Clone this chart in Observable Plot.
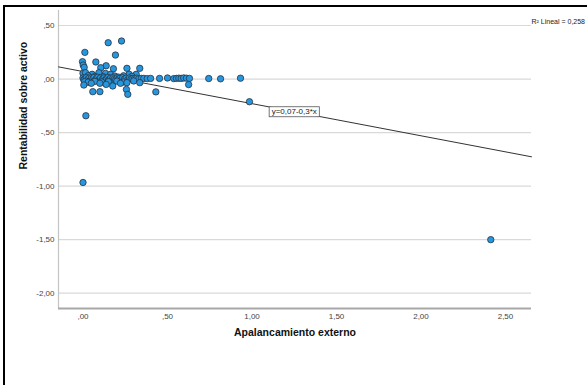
<!DOCTYPE html>
<html>
<head>
<meta charset="utf-8">
<script src="https://cdn.jsdelivr.net/npm/d3@7"></script>
<script src="https://cdn.jsdelivr.net/npm/@observablehq/plot@0.6"></script>
<style>
  html, body { margin: 0; padding: 0; background: #fff; overflow: hidden; }
  #chart { position: relative; width: 587px; height: 385px; overflow: hidden; }
  #chart svg { position: absolute; left: 0; top: 0; }
  #chart .edge {
    position: absolute; left: 3px; top: 5px; right: -10px; bottom: -10px;
    border-left: 2px solid #000; border-top: 2px solid #000; pointer-events: none;
  }
</style>
</head>
<body>
<div id="chart"><div class="edge"></div></div>
<script>
// Apalancamiento externo (x) and Rentabilidad sobre activo (y), one entry per firm
const apalancamiento = [
  0.149, 0.228, 0.011, 0.192,
  -0.003, 0.076, 0.001, 0.007, 0.137, 0.105, 0.180, 0.260, 0.336, 0.000,
  0.015, 0.054, 0.094, 0.133, 0.163, 0.188, 0.273, 0.315, 0.030, 0.120,
  0.240, 0.290, 0.070, 0.210,
  0.000, 0.005, 0.012, 0.020, 0.028, 0.035, 0.042, 0.050, 0.058, 0.065,
  0.072, 0.080, 0.088, 0.095, 0.103, 0.110, 0.118, 0.125, 0.132, 0.140,
  0.148, 0.155, 0.163, 0.170, 0.178, 0.186, 0.194, 0.202, 0.210, 0.218,
  0.226, 0.235, 0.245, 0.255, 0.265, 0.275, 0.285, 0.295, 0.305, 0.318,
  0.330, 0.345, 0.360, 0.380, 0.400,
  0.453, 0.500, 0.537, 0.553, 0.567, 0.581, 0.596, 0.612, 0.630, 0.744,
  0.814, 0.932,
  0.010, 0.030, 0.070, 0.110, 0.150, 0.200, 0.240, 0.300,
  0.005, 0.049, 0.100, 0.137, 0.176, 0.222, 0.260, 0.336, 0.058, 0.100,
  0.257, 0.265, 0.431, 0.625, 0.985, 0.017, 0.000, 2.413
];
const rentabilidad = [
  0.339, 0.355, 0.249, 0.224,
  0.162, 0.159, 0.131, 0.109, 0.124, 0.106, 0.096, 0.100, 0.100, 0.053,
  0.059, 0.044, 0.059, 0.053, 0.044, 0.028, 0.044, 0.044, 0.030, 0.022,
  0.030, 0.025, 0.025, 0.018,
  0.010, -0.008, 0.004, 0.014, -0.004, 0.008, -0.012, 0.012, 0.000, 0.015,
  -0.010, 0.006, 0.016, -0.006, 0.010, -0.014, 0.004, 0.012, -0.008, 0.006,
  0.015, -0.004, 0.008, -0.012, 0.012, 0.002, -0.006, 0.010, -0.002, 0.006,
  -0.010, 0.012, 0.000, 0.008, -0.006, 0.010, 0.002, 0.006, 0.004, 0.008,
  0.002, 0.006, 0.006, 0.004, 0.006,
  0.006, 0.010, 0.004, 0.006, 0.008, 0.006, 0.010, 0.008, 0.006, 0.005,
  0.002, 0.008,
  -0.025, -0.030, -0.022, -0.028, -0.025, -0.020, -0.028, -0.018,
  -0.056, -0.040, -0.040, -0.050, -0.065, -0.040, -0.034, -0.034, -0.118, -0.118,
  -0.097, -0.143, -0.120, -0.052, -0.212, -0.343, -0.966, -1.500
];

// Axis ticks and ranges
const xTicks = [0, 0.5, 1, 1.5, 2, 2.5];
const yTicks = [0.5, 0, -0.5, -1, -1.5, -2];
const xDomain = [-0.145, 2.654];
const yDomain = [-2.143, 0.64];

// Linear fit
const fitIntercept = 0.07;
const fitSlope = -0.3;
const rSquared = 0.258;
const fitLabelAt = 1.25;

// Spanish-style numbers: decimal comma, no leading zero on ticks
const tickFmt = v => (v < 0 ? "-" : "") + Math.abs(v).toFixed(2).replace(/^0/, "").replace(".", ",");
const comma = v => String(v).replace(".", ",");
const fitText = `y=${comma(fitIntercept)}${fitSlope < 0 ? "-" : "+"}${comma(Math.abs(fitSlope))}*x`;
const r2Text = `R² Lineal = ${comma(rSquared)}`;

const points = apalancamiento.map((x, i) => ({x, y: rentabilidad[i]}));
const fit = x => fitIntercept + fitSlope * x;
const fitLine = xDomain.map(x => ({x, y: fit(x)}));

const font = "'Liberation Sans', Arial, sans-serif";

const plot = Plot.plot({
  width: 587,
  height: 385,
  marginLeft: 58,
  marginRight: 56,
  marginTop: 10,
  marginBottom: 77,
  style: {fontFamily: font, background: "transparent", overflow: "visible"},
  x: {domain: xDomain},
  y: {domain: yDomain},
  marks: [
    Plot.gridY(yTicks, {stroke: "#d9d9d9", strokeOpacity: 1, strokeWidth: 1.2}),
    Plot.ruleX([xDomain[0]], {stroke: "#c4c4c4", strokeWidth: 1.2}),
    Plot.ruleY([yDomain[0]], {stroke: "#a8a8a8", strokeWidth: 2}),
    Plot.axisY(yTicks, {tickFormat: tickFmt, tickSize: 0, tickPadding: 4, fontSize: 8, fill: "#444", label: null}),
    Plot.axisX(xTicks, {tickFormat: tickFmt, tickSize: 0, tickPadding: 5, fontSize: 8, fill: "#444", label: null}),
    Plot.line(fitLine, {x: "x", y: "y", stroke: "#333", strokeWidth: 1}),
    Plot.dot(points, {x: "x", y: "y", r: 3.2, fill: "#2696df", stroke: "#2a3440", strokeWidth: 0.8}),
    Plot.text([fitText], {x: () => fitLabelAt, y: () => fit(fitLabelAt), text: d => d, fontSize: 8, fill: "#222"}),
    Plot.text([r2Text], {frameAnchor: "top-right", text: d => d, textAnchor: "start", dx: 0, dy: 9, fontSize: 7, fill: "#222"}),
    Plot.text(["Rentabilidad sobre activo"], {frameAnchor: "left", text: d => d, rotate: -90, dx: -35, dy: 10, fontSize: 10.5, fontWeight: "bold", fill: "#111"}),
    Plot.text(["Apalancamiento externo"], {frameAnchor: "bottom", text: d => d, dy: 27, fontSize: 10.5, fontWeight: "bold", fill: "#111"})
  ]
});

document.getElementById("chart").insertBefore(plot, document.querySelector("#chart .edge"));

// Boxed fit-equation label
for (const t of plot.querySelectorAll("text")) {
  if (t.textContent === fitText) {
    const b = t.getBBox();
    const rect = document.createElementNS("http://www.w3.org/2000/svg", "rect");
    rect.setAttribute("x", b.x - 2.5);
    rect.setAttribute("y", b.y - 0.5);
    rect.setAttribute("width", b.width + 5);
    rect.setAttribute("height", b.height + 1);
    rect.setAttribute("fill", "#fff");
    rect.setAttribute("stroke", "#555");
    rect.setAttribute("stroke-width", 0.8);
    const tr = t.getAttribute("transform");
    if (tr) rect.setAttribute("transform", tr);
    t.parentNode.insertBefore(rect, t);
  }
}
</script>
</body>
</html>
